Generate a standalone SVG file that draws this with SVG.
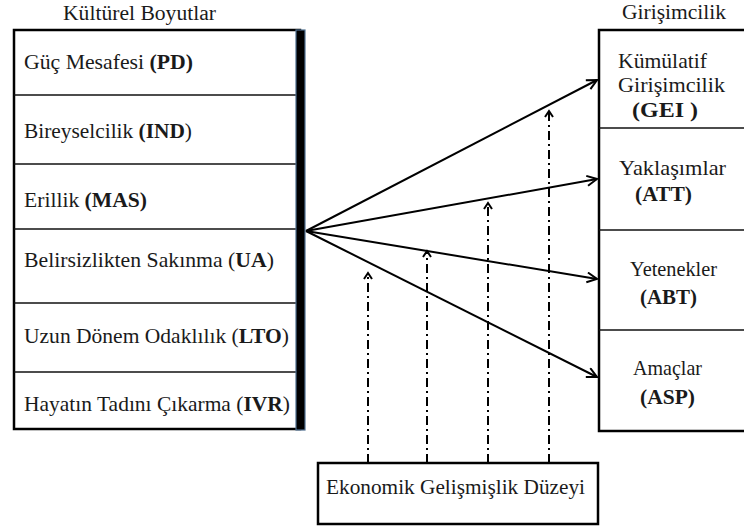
<svg xmlns="http://www.w3.org/2000/svg" width="744" height="529" viewBox="0 0 744 529" font-family="'Liberation Serif', 'DejaVu Serif', serif">
<defs>
<style>
.t{font-size:21px;fill:#1a1a1a}
.h{font-size:20px;fill:#1a1a1a}
.b{font-weight:bold}
.box{fill:#fff;stroke:#000;stroke-width:2.5}
.div{stroke:#111;stroke-width:1.5}
.arr{stroke:#000;stroke-width:2;fill:none;marker-end:url(#ah)}
.dsh{stroke:#000;stroke-width:2;fill:none;stroke-dasharray:9 4 2 4;marker-end:url(#ah2)}
</style>
<marker id="ah" markerUnits="userSpaceOnUse" markerWidth="14" markerHeight="14" refX="11" refY="6" orient="auto">
<path d="M1,1 L11,6 L1,11" fill="none" stroke="#000" stroke-width="2"/>
</marker>
<marker id="ah2" markerUnits="userSpaceOnUse" markerWidth="12" markerHeight="12" refX="7" refY="5" orient="auto">
<path d="M1,1 L7,5 L1,9" fill="none" stroke="#000" stroke-width="2"/>
</marker>
</defs>
<rect width="744" height="529" fill="#fff"/>

<g id="kulturel">
<text class="h" x="63" y="20" textLength="153" lengthAdjust="spacingAndGlyphs" font-family="Liberation Serif">Kültürel Boyutlar</text>
<rect class="box" x="14" y="30" width="286" height="399"/>
<line class="div" x1="14" y1="95" x2="296" y2="95"/>
<line class="div" x1="14" y1="164" x2="296" y2="164"/>
<line class="div" x1="14" y1="229" x2="296" y2="229"/>
<line class="div" x1="14" y1="303" x2="296" y2="303"/>
<line class="div" x1="14" y1="372" x2="296" y2="372"/>
<rect x="296" y="30" width="9" height="400" fill="#000" stroke="#4f6f8f" stroke-width="1.2"/>
<text class="t" x="24" y="69" textLength="169" lengthAdjust="spacingAndGlyphs" font-family="Liberation Serif">Güç Mesafesi  <tspan class="b">(PD)</tspan></text>
<text class="t" x="24" y="138" textLength="168" lengthAdjust="spacingAndGlyphs" font-family="Liberation Serif">Bireyselcilik  <tspan class="b">(IND</tspan>)</text>
<text class="t" x="24" y="207" textLength="123" lengthAdjust="spacingAndGlyphs" font-family="Liberation Serif">Erillik <tspan class="b">(MAS)</tspan></text>
<text class="t" x="24" y="267" textLength="250" lengthAdjust="spacingAndGlyphs" font-family="Liberation Serif">Belirsizlikten Sakınma (<tspan class="b">UA</tspan>)</text>
<text class="t" x="24" y="343" textLength="265" lengthAdjust="spacingAndGlyphs" font-family="Liberation Serif">Uzun Dönem Odaklılık (<tspan class="b">LTO</tspan>)</text>
<text class="t" x="24" y="411" textLength="266" lengthAdjust="spacingAndGlyphs" font-family="Liberation Serif">Hayatın Tadını Çıkarma (<tspan class="b">IVR</tspan>)</text>
</g>

<g id="girisimcilik" font-family="Liberation Serif">
<text class="h" x="622" y="19" textLength="104" lengthAdjust="spacingAndGlyphs">Girişimcilik</text>
<rect class="box" x="599" y="30" width="160" height="401"/>
<line class="div" x1="599" y1="128" x2="744" y2="128" stroke="#444"/>
<line class="div" x1="599" y1="230" x2="744" y2="230" stroke="#444"/>
<line class="div" x1="599" y1="330" x2="744" y2="330"/>
<text class="t" x="618" y="68" textLength="89" lengthAdjust="spacingAndGlyphs">Kümülatif</text>
<text class="t" x="618" y="92" textLength="107" lengthAdjust="spacingAndGlyphs">Girişimcilik</text>
<text class="t b" x="632" y="117" textLength="66" lengthAdjust="spacingAndGlyphs">(GEI )</text>
<text class="t" x="619" y="175" textLength="107" lengthAdjust="spacingAndGlyphs">Yaklaşımlar</text>
<text class="t b" x="635" y="201" textLength="57" lengthAdjust="spacingAndGlyphs">(ATT)</text>
<text class="t" x="630" y="276" textLength="87" lengthAdjust="spacingAndGlyphs">Yetenekler</text>
<text class="t b" x="640" y="304" textLength="57" lengthAdjust="spacingAndGlyphs">(ABT)</text>
<text class="t" x="633" y="375" textLength="69" lengthAdjust="spacingAndGlyphs">Amaçlar</text>
<text class="t b" x="640" y="404" textLength="55" lengthAdjust="spacingAndGlyphs">(ASP)</text>
</g>

<g id="ekonomik" font-family="Liberation Serif">
<rect class="box" x="318" y="463" width="280" height="61"/>
<text class="t" x="326" y="494" textLength="259" lengthAdjust="spacingAndGlyphs">Ekonomik Gelişmişlik Düzeyi</text>
</g>

<g id="connectors">
<line class="arr" x1="306" y1="231" x2="597" y2="80"/>
<line class="arr" x1="306" y1="231" x2="597" y2="179"/>
<line class="arr" x1="306" y1="231" x2="597" y2="279"/>
<line class="arr" x1="306" y1="231" x2="597" y2="377"/>
<line class="dsh" x1="368" y1="463" x2="368" y2="273"/>
<line class="dsh" x1="427" y1="463" x2="427" y2="251"/>
<line class="dsh" x1="488" y1="463" x2="488" y2="203"/>
<line class="dsh" x1="549" y1="463" x2="549" y2="111"/>
</g>
</svg>
